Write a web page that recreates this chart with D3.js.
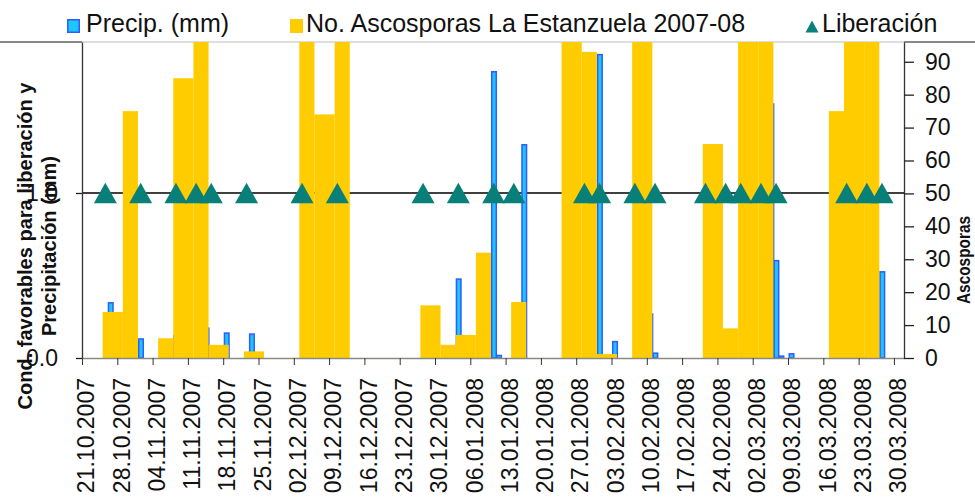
<!DOCTYPE html>
<html>
<head>
<meta charset="utf-8">
<script src="https://cdn.jsdelivr.net/npm/d3@7"></script>
<style>
  body { margin: 0; background: #fff; }
  svg { display: block; }
  text { font-family: "Liberation Sans", Arial, sans-serif; }
</style>
</head>
<body>
<svg id="chart" width="975" height="498"></svg>
<script>
// Weekly date ticks on the time axis
const tickLabels = [
  "21.10.2007","28.10.2007","04.11.2007","11.11.2007","18.11.2007","25.11.2007",
  "02.12.2007","09.12.2007","16.12.2007","23.12.2007","30.12.2007","06.01.2008",
  "13.01.2008","20.01.2008","27.01.2008","03.02.2008","10.02.2008","17.02.2008",
  "24.02.2008","02.03.2008","09.03.2008","16.03.2008","23.03.2008","30.03.2008"
];

// Spore trap readings: each count covers the period from ascoFrom to ascoTo
const ascoFrom = [
  "25.10.2007","29.10.2007","05.11.2007","08.11.2007","12.11.2007","15.11.2007",
  "22.11.2007","03.12.2007","06.12.2007","10.12.2007","27.12.2007","31.12.2007",
  "03.01.2008","07.01.2008","14.01.2008","24.01.2008","28.01.2008","31.01.2008",
  "07.02.2008","21.02.2008","25.02.2008","28.02.2008","03.03.2008","17.03.2008",
  "20.03.2008","24.03.2008"
];
const ascoTo = [
  "29.10.2007","01.11.2007","08.11.2007","12.11.2007","15.11.2007","19.11.2007",
  "26.11.2007","06.12.2007","10.12.2007","13.12.2007","31.12.2007","03.01.2008",
  "07.01.2008","10.01.2008","17.01.2008","28.01.2008","31.01.2008","04.02.2008",
  "11.02.2008","25.02.2008","28.02.2008","03.03.2008","06.03.2008","20.03.2008",
  "24.03.2008","27.03.2008"
];
const ascoValues = [
  14, 75, 6, 85, 140, 4,
  2, 120, 74, 110, 16, 4,
  7, 32, 17, 160, 93, 1.2,
  130, 65, 9, 150, 115, 75,
  125, 180
];

// Daily rainfall (mm)
const precipDates = [
  "26.10.2007","01.11.2007","08.11.2007","14.11.2007","18.11.2007","23.11.2007",
  "03.01.2008","10.01.2008","11.01.2008","16.01.2008","31.01.2008","03.02.2008",
  "10.02.2008","11.02.2008","05.03.2008","06.03.2008","07.03.2008","09.03.2008",
  "27.03.2008"
];
const precipValues = [
  17, 6, 7, 9.3, 7.8, 7.5,
  24.2, 87.2, 1, 65, 92.4, 5.2,
  13.6, 1.7, 77.4, 29.8, 0.8, 1.5,
  26.4
];

// Days with favourable conditions for ascospore release (1 = yes)
const liberacionDates = [
  "25.10.2007","01.11.2007","08.11.2007","12.11.2007","15.11.2007","22.11.2007",
  "03.12.2007","10.12.2007","27.12.2007","03.01.2008","10.01.2008","14.01.2008",
  "28.01.2008","31.01.2008","07.02.2008","11.02.2008","21.02.2008","25.02.2008",
  "28.02.2008","03.03.2008","06.03.2008","20.03.2008","24.03.2008","27.03.2008"
];
const liberacionValues = liberacionDates.map(() => 1);

const leftTicks = [0, 1];
const rightTicks = [0, 10, 20, 30, 40, 50, 60, 70, 80, 90];

const parse = d3.utcParse("%d.%m.%Y");
const W = 975, H = 498;
const m = { left: 82, right: 904, top: 42, bottom: 358 };

const svg = d3.select("#chart");

const x = d3.scaleUtc()
  .domain([parse("21.10.2007"), parse("01.04.2008")])
  .range([m.left, m.right]);
const yRight = d3.scaleLinear().domain([0, 96]).range([m.bottom, m.top]);
const yLeft = d3.scaleLinear().domain([0, 1.915]).range([m.bottom, m.top]);

const dayW = x(parse("22.10.2007")) - x(parse("21.10.2007"));

svg.append("defs").append("clipPath").attr("id", "plot")
  .append("rect")
  .attr("x", m.left).attr("y", m.top)
  .attr("width", m.right - m.left).attr("height", m.bottom - m.top);

// Frame lines along the top
svg.append("line").attr("x1", 0).attr("x2", m.left).attr("y1", m.top).attr("y2", m.top)
  .attr("stroke", "#111").attr("stroke-width", 1.2);
svg.append("line").attr("x1", m.right).attr("x2", W).attr("y1", m.top).attr("y2", m.top)
  .attr("stroke", "#111").attr("stroke-width", 1.2);
svg.append("line").attr("x1", m.left).attr("x2", m.right).attr("y1", m.top).attr("y2", m.top)
  .attr("stroke", "#bdbdbd").attr("stroke-width", 1.2);

const plot = svg.append("g").attr("clip-path", "url(#plot)");

// Reference line at 1.0 on the left axis
plot.append("line")
  .attr("x1", m.left).attr("x2", m.right)
  .attr("y1", yLeft(1)).attr("y2", yLeft(1))
  .attr("stroke", "#000").attr("stroke-width", 1.5);

// Rainfall bars
const pw = dayW * 1.2;
plot.append("g").selectAll("rect")
  .data(precipDates.map((d, i) => ({ date: parse(d), v: precipValues[i] })))
  .join("rect")
  .attr("x", d => x(d.date) + 0.5 + 0.75)
  .attr("width", pw - 1.5)
  .attr("y", d => yRight(d.v) + 0.75)
  .attr("height", d => Math.max(0, yRight(0) - yRight(d.v) - 0.75))
  .attr("fill", "#1cc6ff")
  .attr("stroke", "#2f5bff")
  .attr("stroke-width", 1.5);

// Ascospore counts per reading period
plot.append("g").selectAll("rect")
  .data(ascoFrom.map((d, i) => ({ a: parse(d), b: parse(ascoTo[i]), v: ascoValues[i] })))
  .join("rect")
  .attr("x", d => x(d.a) + 0.5)
  .attr("width", d => x(d.b) - x(d.a))
  .attr("y", d => yRight(d.v))
  .attr("height", d => yRight(0) - yRight(d.v))
  .attr("fill", "#ffcc00");

// Release markers
const tri = (cx, cy, w, h) => `M${cx},${cy - h / 2}L${cx + w / 2},${cy + h / 2}L${cx - w / 2},${cy + h / 2}Z`;
svg.append("g").selectAll("path")
  .data(liberacionDates.map((d, i) => ({ date: parse(d), v: liberacionValues[i] })))
  .join("path")
  .attr("d", d => tri(x(d.date) + dayW * 0.63, yLeft(d.v), 23, 20.5))
  .attr("fill", "#087f79");

// Time axis
const tickDates = tickLabels.map(parse);
const xAxis = svg.append("g")
  .attr("transform", `translate(0,${m.bottom})`)
  .call(d3.axisBottom(x).tickValues(tickDates).tickSize(7).tickSizeOuter(0)
    .tickFormat((d, i) => tickLabels[i]));
xAxis.select(".domain").attr("stroke", "#8a8a80").attr("stroke-width", 1.5);
xAxis.selectAll(".tick line").attr("stroke", "#333").attr("stroke-width", 1);
xAxis.selectAll(".tick text")
  .attr("transform", "translate(11.7,20) rotate(-90)")
  .attr("x", 0).attr("y", 0).attr("dy", 0)
  .attr("text-anchor", "end")
  .attr("fill", "#111")
  .style("font-size", "23px");

// Ascospore axis on the right
const rAxis = svg.append("g")
  .attr("transform", `translate(${m.right},0)`)
  .call(d3.axisRight(yRight).tickValues(rightTicks).tickSize(10).tickSizeOuter(0).tickPadding(11));
rAxis.select(".domain").attr("stroke", "#333").attr("stroke-width", 1.3);
rAxis.selectAll(".tick line").attr("stroke", "#222").attr("stroke-width", 1.3);
rAxis.selectAll(".tick text").attr("fill", "#111").style("font-size", "23px");

// Left axis
const lAxis = svg.append("g")
  .attr("transform", `translate(${m.left},0)`)
  .call(d3.axisLeft(yLeft).tickValues(leftTicks).tickSize(6).tickSizeOuter(0)
    .tickPadding(18).tickFormat(d3.format(".1f")));
lAxis.select(".domain").attr("stroke", "#333").attr("stroke-width", 1.3);
lAxis.selectAll(".tick line").attr("stroke", "#222").attr("stroke-width", 1.3);
lAxis.selectAll(".tick text").attr("fill", "#111").style("font-size", "23px");

// Axis titles
const lt = svg.append("text")
  .attr("transform", "translate(32,246) rotate(-90)")
  .attr("text-anchor", "middle")
  .style("font-size", "20px").style("font-weight", "bold").attr("fill", "#111");
lt.append("tspan").attr("x", 0).attr("y", 0).text("Cond. favorables para liberación y");
lt.append("tspan").attr("x", 0).attr("y", 24).text("Precipitación (mm)");

svg.append("text")
  .attr("transform", "translate(970,260) rotate(-90)")
  .attr("text-anchor", "middle")
  .attr("textLength", 88).attr("lengthAdjust", "spacingAndGlyphs")
  .style("font-size", "18px").style("font-weight", "bold").attr("fill", "#111")
  .text("Ascosporas");

// Legend
const lg = svg.append("g");
lg.append("rect").attr("x", 67.75).attr("y", 19.75).attr("width", 11.5).attr("height", 12.5)
  .attr("fill", "#1cc6ff").attr("stroke", "#2f5bff").attr("stroke-width", 1.5);
lg.append("text").attr("x", 86).attr("y", 32).style("font-size", "25px").attr("fill", "#111")
  .text("Precip. (mm)");
lg.append("rect").attr("x", 290).attr("y", 19).attr("width", 13).attr("height", 14)
  .attr("fill", "#ffcc00");
lg.append("text").attr("x", 306).attr("y", 32).style("font-size", "25px").attr("fill", "#111")
  .text("No. Ascosporas La Estanzuela 2007-08");
lg.append("path").attr("d", tri(812, 26.5, 13, 12)).attr("fill", "#087f79");
lg.append("text").attr("x", 822).attr("y", 32).style("font-size", "25px").attr("fill", "#111")
  .text("Liberación");
</script>
</body>
</html>
